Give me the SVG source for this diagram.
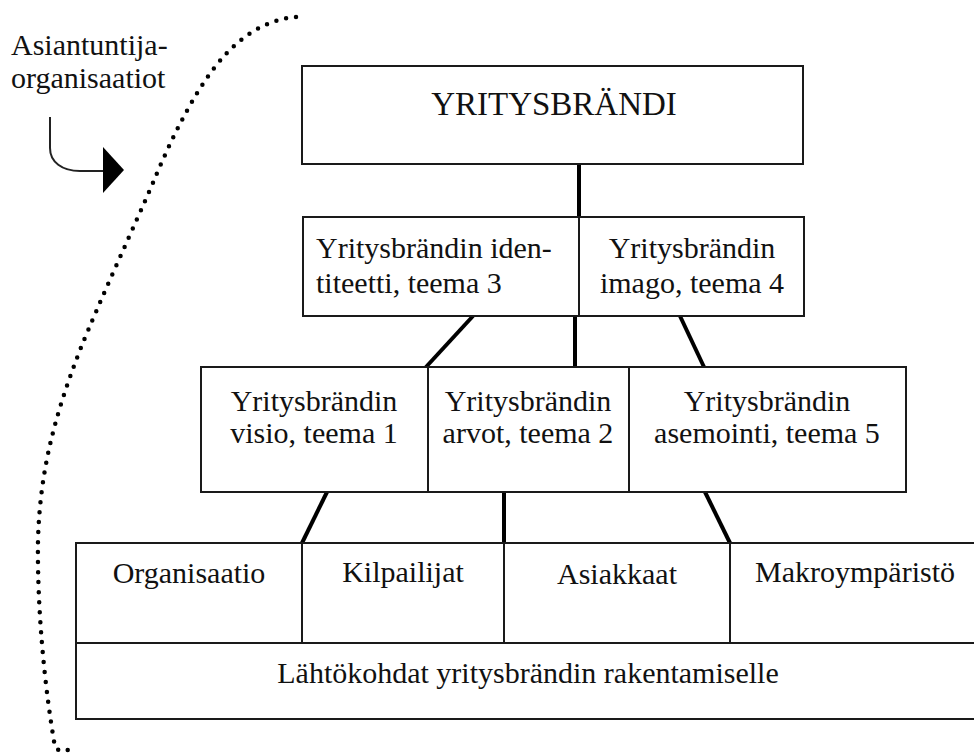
<svg xmlns="http://www.w3.org/2000/svg" width="974" height="754" viewBox="0 0 974 754">
  <style>
    .box { fill: #ffffff; stroke: #1a1a1a; stroke-width: 2; }
    .lbl { font-family: 'Liberation Serif', Tinos, 'Times New Roman', Times, 'DejaVu Serif', serif; font-size: 30px; fill: #111111; }
    .mid { text-anchor: middle; }
    .link { stroke: #000000; stroke-width: 4; fill: none; stroke-linecap: butt; }
    .dots { fill: none; stroke: #000000; stroke-width: 4.5; stroke-linecap: round; stroke-dasharray: 0 10; }
  </style>
  <rect x="0" y="0" width="974" height="754" fill="#ffffff"/>

  <!-- dotted boundary of the expert organisations -->
  <g id="boundary">
    <path class="dots" d="M296,17 C270,19 245,33 225,55 C200,82 175,130 155,178 C135,225 100,300 80,350 C55,415 40,470 38,540 C37,610 45,690 55,747 Q62,756 76,745"/>
  </g>

  <!-- label with curved arrow -->
  <g id="experts" font-family="Liberation Serif, serif">
    <text class="lbl" x="11" y="55">Asiantuntija-</text>
    <text class="lbl" x="11" y="88">organisaatiot</text>
    <path d="M50,117 L50,148 C50,162 62,171 80,171 L104,171" fill="none" stroke="#222" stroke-width="2"/>
    <polygon points="103,147 124,170 103,193" fill="#000"/>
  </g>

  <!-- connectors between levels -->
  <g id="connectors">
    <line class="link" x1="579" y1="164" x2="579" y2="217"/>
    <line class="link" x1="473" y1="316" x2="426" y2="367"/>
    <line class="link" x1="575" y1="316" x2="575" y2="367"/>
    <line class="link" x1="680" y1="316" x2="704" y2="367"/>
    <line class="link" x1="327" y1="492" x2="302" y2="543"/>
    <line class="link" x1="504" y1="492" x2="504" y2="543"/>
    <line class="link" x1="705" y1="492" x2="730" y2="543"/>
  </g>

  <g id="yritysbrandi">
    <rect class="box" x="302" y="66" width="501" height="98"/>
    <text class="lbl mid" x="554" y="115" style="font-size:33px">YRITYSBRÄNDI</text>
  </g>

  <g id="identiteetti">
    <rect class="box" x="303" y="217" width="276" height="99"/>
    <text class="lbl" x="316" y="258">Yritysbrändin iden-</text>
    <text class="lbl" x="316" y="293">titeetti, teema 3</text>
  </g>

  <g id="imago">
    <rect class="box" x="579" y="217" width="225" height="99"/>
    <text class="lbl mid" x="692" y="258">Yritysbrändin</text>
    <text class="lbl mid" x="692" y="293">imago, teema 4</text>
  </g>

  <g id="visio">
    <rect class="box" x="201" y="367" width="227" height="125"/>
    <text class="lbl mid" x="314" y="411">Yritysbrändin</text>
    <text class="lbl mid" x="314" y="443">visio, teema 1</text>
  </g>

  <g id="arvot">
    <rect class="box" x="428" y="367" width="201" height="125"/>
    <text class="lbl mid" x="528" y="411">Yritysbrändin</text>
    <text class="lbl mid" x="528" y="443">arvot, teema 2</text>
  </g>

  <g id="asemointi">
    <rect class="box" x="629" y="367" width="277" height="125"/>
    <text class="lbl mid" x="767" y="411">Yritysbrändin</text>
    <text class="lbl mid" x="767" y="443">asemointi, teema 5</text>
  </g>

  <g id="organisaatio">
    <rect class="box" x="76" y="543" width="226" height="100"/>
    <text class="lbl mid" x="189" y="583">Organisaatio</text>
  </g>

  <g id="kilpailijat">
    <rect class="box" x="302" y="543" width="202" height="100"/>
    <text class="lbl mid" x="403" y="582">Kilpailijat</text>
  </g>

  <g id="asiakkaat">
    <rect class="box" x="504" y="543" width="226" height="100"/>
    <text class="lbl mid" x="617" y="584">Asiakkaat</text>
  </g>

  <g id="makroymparisto">
    <rect class="box" x="730" y="543" width="250" height="100"/>
    <text class="lbl mid" x="855" y="582">Makroympäristö</text>
  </g>

  <g id="lahtokohdat">
    <rect class="box" x="76" y="643" width="904" height="76"/>
    <text class="lbl mid" x="528" y="683">Lähtökohdat yritysbrändin rakentamiselle</text>
  </g>
</svg>
